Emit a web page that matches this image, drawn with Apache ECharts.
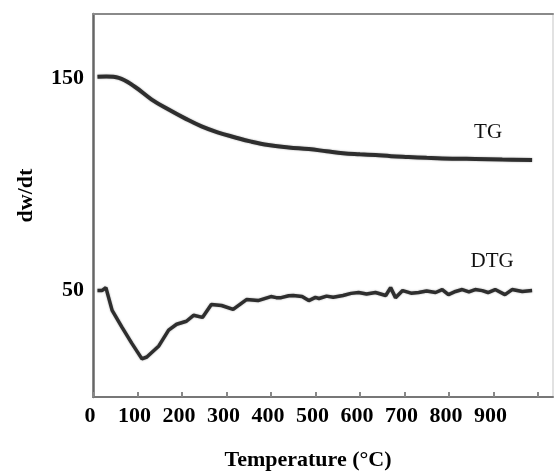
<!DOCTYPE html>
<html>
<head>
<meta charset="utf-8">
<script src="https://cdn.jsdelivr.net/npm/echarts@6/dist/echarts.min.js"></script>
<style>html,body{margin:0;padding:0;background:#fff}#c{width:555px;height:476px}</style>
</head>
<body>
<div id="c"></div>
<script>
// Temperature (°C) and values
const tgT = [10, 30, 58, 94, 132, 170, 210, 244, 280, 318, 356, 394, 440, 485, 525, 562, 600, 635, 670, 709, 750, 785, 820, 859, 920, 987];
const tgV = [150.5, 150.6, 150, 145.8, 139.8, 135.1, 130.6, 127.2, 124.4, 122.1, 120.0, 118.4, 117.3, 116.5, 115.5, 114.6, 114.1, 113.7, 113.2, 112.8, 112.4, 112.1, 112.0, 111.9, 111.6, 111.4];
const dtgT = [10, 20, 29, 43, 65, 87, 110, 121, 148, 170, 188, 210, 226, 246, 266, 289, 315, 345, 371, 400, 412, 423, 440, 450, 470, 485, 500, 508, 525, 540, 562, 580, 597, 615, 635, 658, 669, 680, 696, 715, 732, 750, 770, 785, 799, 815, 830, 845, 859, 875, 888, 904, 926, 942, 965, 987];
const dtgV = [50.0, 50.0, 51.4, 40.7, 32.8, 25.3, 17.9, 18.8, 24.0, 31.4, 34.2, 35.6, 38.4, 37.4, 43.5, 43.0, 41.2, 45.8, 45.3, 47.2, 46.7, 46.7, 47.6, 47.7, 47.2, 45.3, 46.8, 46.3, 47.4, 46.9, 47.7, 48.7, 49.1, 48.4, 49.1, 47.7, 51.4, 46.7, 50.0, 48.8, 49.1, 49.8, 49.1, 50.5, 48.1, 49.6, 50.5, 49.4, 50.5, 50.0, 49.1, 50.5, 48.1, 50.5, 49.6, 50.0];
const curveNames = ['TG', 'DTG'];
const curveLabelT = [888, 897];
const curveLabelV = [124.4, 63.5];
const xTickLabels = ['0', '100', '200', '300', '400', '500', '600', '700', '800', '900'];
const yTickLabels = ['50', '150'];

const serif = "'Liberation Serif','Times New Roman',serif";
const chart = echarts.init(document.getElementById('c'), null, {renderer: 'canvas'});
const pair = (a, b) => a.map((t, i) => [t, b[i]]);
const lineCol = '#2e2e2e';
function mk(i) {
  return {
    symbol: 'rect', symbolSize: [1, 1], silent: true,
    itemStyle: {color: 'rgba(0,0,0,0)'},
    label: {show: true, position: 'inside', formatter: curveNames[i], color: '#111', fontFamily: serif, fontSize: 21},
    data: [{coord: [curveLabelT[i], curveLabelV[i]]}]
  };
}
chart.setOption({
  backgroundColor: '#fff',
  animation: false,
  grid: {left: 93, right: 2, top: 14, bottom: 75},
  xAxis: [{
    type: 'value', min: 0, max: 1034, interval: 100,
    name: 'Temperature (°C)', nameLocation: 'middle', nameGap: 52,
    nameTextStyle: {fontFamily: serif, fontWeight: 'bold', fontSize: 22, color: '#000', padding: [0, 30, 0, 0]},
    axisLine: {show: true, onZero: false, lineStyle: {color: '#777', width: 2}},
    axisTick: {show: true, inside: true, length: 5, lineStyle: {color: '#888', width: 2}},
    splitLine: {show: false},
    axisLabel: {
      margin: 8, fontFamily: serif, fontWeight: 'bold', fontSize: 22, color: '#000',
      showMaxLabel: false, padding: [0, 6, 0, 0],
      formatter: v => { const s = String(v); return xTickLabels.includes(s) ? s : ''; }
    }
  }, {
    type: 'value', position: 'top', min: 0, max: 1034,
    axisLine: {show: true, onZero: false, lineStyle: {color: '#8a8a8a', width: 2}},
    axisTick: {show: false}, axisLabel: {show: false}, splitLine: {show: false}
  }],
  yAxis: [{
    type: 'value', min: 0, max: 180, interval: 50,
    name: 'dw/dt', nameLocation: 'middle', nameGap: 56, nameRotate: 90,
    nameTextStyle: {fontFamily: serif, fontWeight: 'bold', fontSize: 22, color: '#000', padding: [0, 0, 0, 20]},
    axisLine: {show: true, onZero: false, lineStyle: {color: '#666', width: 2.5}},
    axisTick: {show: false},
    splitLine: {show: false},
    axisLabel: {
      margin: 9, fontFamily: serif, fontWeight: 'bold', fontSize: 22, color: '#000',
      showMaxLabel: false,
      formatter: v => { const s = String(v); return yTickLabels.includes(s) ? s : ''; }
    }
  }, {
    type: 'value', position: 'right', min: 0, max: 180,
    axisLine: {show: true, onZero: false, lineStyle: {color: '#e2e2e2', width: 2}},
    axisTick: {show: false}, axisLabel: {show: false}, splitLine: {show: false}
  }],
  series: [{
    name: 'TG', type: 'line', data: pair(tgT, tgV), smooth: 0.4, showSymbol: false,
    lineStyle: {color: lineCol, width: 4, shadowColor: 'rgba(0,0,0,0.35)', shadowBlur: 2},
    markPoint: mk(0)
  }, {
    name: 'DTG', type: 'line', data: pair(dtgT, dtgV), smooth: false, showSymbol: false,
    lineStyle: {color: lineCol, width: 3.5, shadowColor: 'rgba(0,0,0,0.35)', shadowBlur: 2},
    markPoint: mk(1)
  }]
});
</script>
</body>
</html>
